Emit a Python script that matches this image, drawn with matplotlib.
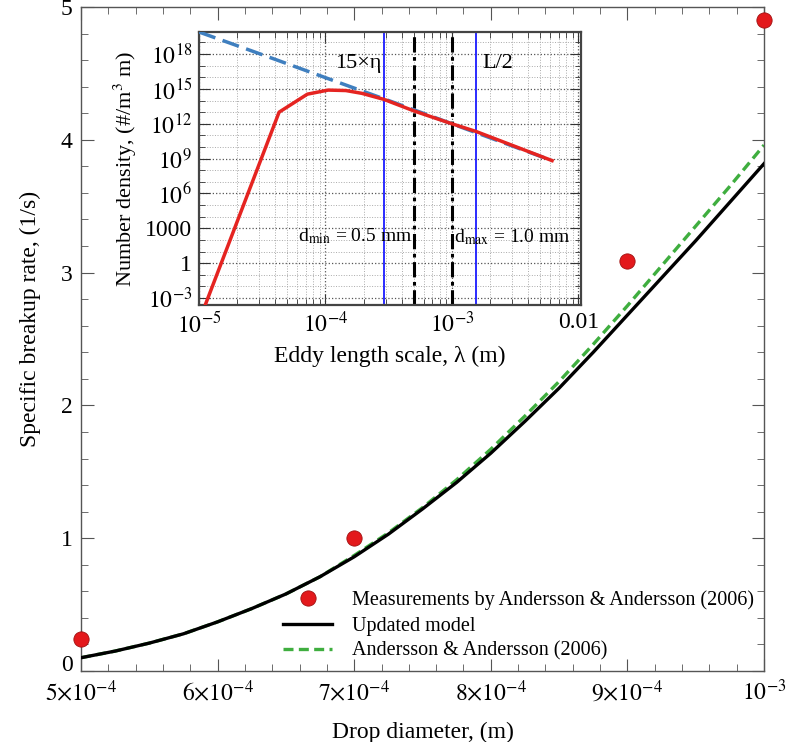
import matplotlib
matplotlib.use("Agg")
import matplotlib.pyplot as plt
from matplotlib.ticker import MultipleLocator, FixedLocator, FixedFormatter, LogLocator, NullFormatter

plt.rcParams['font.family'] = ['Liberation Serif', 'DejaVu Serif']
plt.rcParams['mathtext.fontset'] = 'stix'

# main plot data
d_model = [5.00e-4, 5.25e-4, 5.50e-4, 5.75e-4, 6.00e-4, 6.25e-4, 6.50e-4, 6.75e-4, 7.00e-4, 7.25e-4, 7.50e-4,
           7.75e-4, 8.00e-4, 8.25e-4, 8.50e-4, 8.75e-4, 9.00e-4, 9.25e-4, 9.50e-4, 9.75e-4, 1.00e-3]
rate_updated = [0.10, 0.15, 0.21, 0.28, 0.37, 0.47, 0.58, 0.71, 0.86, 1.03, 1.22,
                1.42, 1.64, 1.88, 2.13, 2.40, 2.68, 2.96, 3.24, 3.53, 3.82]
rate_aa = [0.10, 0.15, 0.21, 0.28, 0.37, 0.47, 0.58, 0.71, 0.87, 1.04, 1.23,
           1.44, 1.67, 1.92, 2.18, 2.46, 2.75, 3.05, 3.35, 3.65, 3.96]

d_meas = [5.0e-4, 7.0e-4, 9.0e-4, 1.0e-3]
rate_meas = [0.24, 1.0, 3.09, 4.90]

# inset data
lam_full = [1e-5, 3.16e-5, 1e-4, 3.16e-4, 1e-3, 3.16e-3, 6.2e-3]
dens_full = [10**19.9, 10**17.95, 10**15.97, 10**14.0, 10**12.0, 10**10.0, 10**8.83]

lam_red = [1e-5, 4.3e-5, 7.2e-5, 1.05e-4, 1.45e-4, 1.94e-4, 2.9e-4, 5e-4, 1e-3, 1.55e-3, 6.2e-3]
dens_red = [1e-5, 10**13.0, 10**14.55, 10**14.9, 10**14.86, 10**14.62, 10**14.1, 10**13.11, 10**12.0, 10**11.34, 10**8.83]

eta15 = 2.9e-4
half_L = 1.55e-3
d_min = 5e-4
d_max = 1e-3

fig = plt.figure(figsize=(7.94, 7.42), dpi=100)
ax = fig.add_axes([81/794, 71/742, 683/794, 664/742])

ax.plot(d_model, rate_updated, color='black', lw=2.4, label='Updated model', zorder=3)
ax.plot(d_model, rate_aa, color='#3fae3f', lw=2.4, ls=(0, (3, 1.6)), label='Andersson & Andersson (2006)', zorder=2)
ax.plot(d_meas, rate_meas, ls='none', marker='o', ms=11, mfc='#e3191c', mec='#a01010', mew=0.6,
        label='Measurements by Andersson & Andersson (2006)', clip_on=False, zorder=4)

ax.set_xlim(5e-4, 1e-3)
ax.set_ylim(0, 5)
ax.xaxis.set_major_locator(FixedLocator([5e-4, 6e-4, 7e-4, 8e-4, 9e-4, 1e-3]))
ax.xaxis.set_major_formatter(FixedFormatter([r'$5{\times}10^{-4}$', r'$6{\times}10^{-4}$', r'$7{\times}10^{-4}$',
                                             r'$8{\times}10^{-4}$', r'$9{\times}10^{-4}$', r'$10^{-3}$']))
ax.xaxis.set_minor_locator(MultipleLocator(2e-5))
ax.yaxis.set_major_locator(FixedLocator([0, 1, 2, 3, 4, 5]))
ax.yaxis.set_minor_locator(MultipleLocator(0.2))
ax.tick_params(which='both', direction='in', top=True, right=True, labelsize=17, color='#555555')
ax.tick_params(which='major', length=9, pad=6)
ax.tick_params(which='minor', length=5)
for s in ax.spines.values():
    s.set_color('#555555')
    s.set_linewidth(1.0)
ax.set_xlabel('Drop diameter, (m)', fontsize=17, labelpad=12)
ax.set_ylabel('Specific breakup rate, (1/s)', fontsize=17)
ax.yaxis.set_label_coords(-0.058, 0.53)

h, l = ax.get_legend_handles_labels()
ax.legend([h[2], h[0], h[1]], [l[2], l[0], l[1]], loc='lower right', bbox_to_anchor=(1.0, 0.0),
          frameon=False, fontsize=14.5, handlelength=2.4, handletextpad=1.0, labelspacing=0.3, borderaxespad=0.1)

# inset
ins = fig.add_axes([199/794, 437/742, 382/794, 273/742])
ins.set_xscale('log')
ins.set_yscale('log')
ins.plot(lam_full, dens_full, color='#3f7fbf', lw=2.5, ls=(0, (5, 2.2)), zorder=3)
ins.plot(lam_red, dens_red, color='#e52421', lw=2.5, zorder=4)
ins.axvline(eta15, color='#1a1aff', lw=1.3, zorder=2)
ins.axvline(half_L, color='#1a1aff', lw=1.3, zorder=2)
ins.axvline(d_min, color='black', lw=2.2, ls=(0, (5, 1.5, 1.2, 1.5)), zorder=2)
ins.axvline(d_max, color='black', lw=2.2, ls=(0, (5, 1.5, 1.2, 1.5)), zorder=2)

ins.set_xlim(1e-5, 1.05e-2)
ins.set_ylim(10**-3.6, 10**19.9)
ins.xaxis.set_major_locator(FixedLocator([1e-5, 1e-4, 1e-3, 1e-2]))
ins.xaxis.set_major_formatter(FixedFormatter([r'$10^{-5}$', r'$10^{-4}$', r'$10^{-3}$', '0.01']))
ins.xaxis.set_minor_locator(LogLocator(base=10, subs=range(2, 10), numticks=20))
ins.xaxis.set_minor_formatter(NullFormatter())
yt = [1e-3, 1, 1e3, 1e6, 1e9, 1e12, 1e15, 1e18]
ins.yaxis.set_major_locator(FixedLocator(yt))
ins.yaxis.set_major_formatter(FixedFormatter([r'$10^{-3}$', '1', '1000', r'$10^{6}$', r'$10^{9}$',
                                              r'$10^{12}$', r'$10^{15}$', r'$10^{18}$']))
ins.yaxis.set_minor_locator(FixedLocator([10.0**k for k in range(-3, 20)]))
ins.yaxis.set_minor_formatter(NullFormatter())
ins.grid(which='major', color='#555555', ls=':', lw=0.9)
ins.grid(which='minor', color='#aaaaaa', ls=':', lw=0.7)
ins.tick_params(which='both', direction='in', top=True, right=True, labelsize=17, color='#333333')
ins.tick_params(which='major', length=8, pad=5)
ins.tick_params(which='minor', length=4)
for s in ins.spines.values():
    s.set_color('#444444')
    s.set_linewidth(1.6)
ins.set_xlabel('Eddy length scale, λ (m)', fontsize=17, labelpad=6)
ins.set_ylabel('Number density, (#/m$^3$ m)', fontsize=16, labelpad=4)

ins.text(2.75e-4, 10**17.2, '15×η', fontsize=16, ha='right', va='center')
ins.text(1.75e-3, 10**17.2, 'L/2', fontsize=16, ha='left', va='center')
ins.text(4.9e-4, 10**2.3, r'd$_{\rm min}$ = 0.5 mm', fontsize=14, ha='right', va='center')
ins.text(1.03e-3, 10**2.2, r'd$_{\rm max}$ = 1.0 mm', fontsize=14, ha='left', va='center')

# lift the "0" label a little, as in the original
fig.canvas.draw()
ax.yaxis.get_major_ticks()[0].label1.set_verticalalignment('baseline')

fig.savefig('out.png', dpi=100)
